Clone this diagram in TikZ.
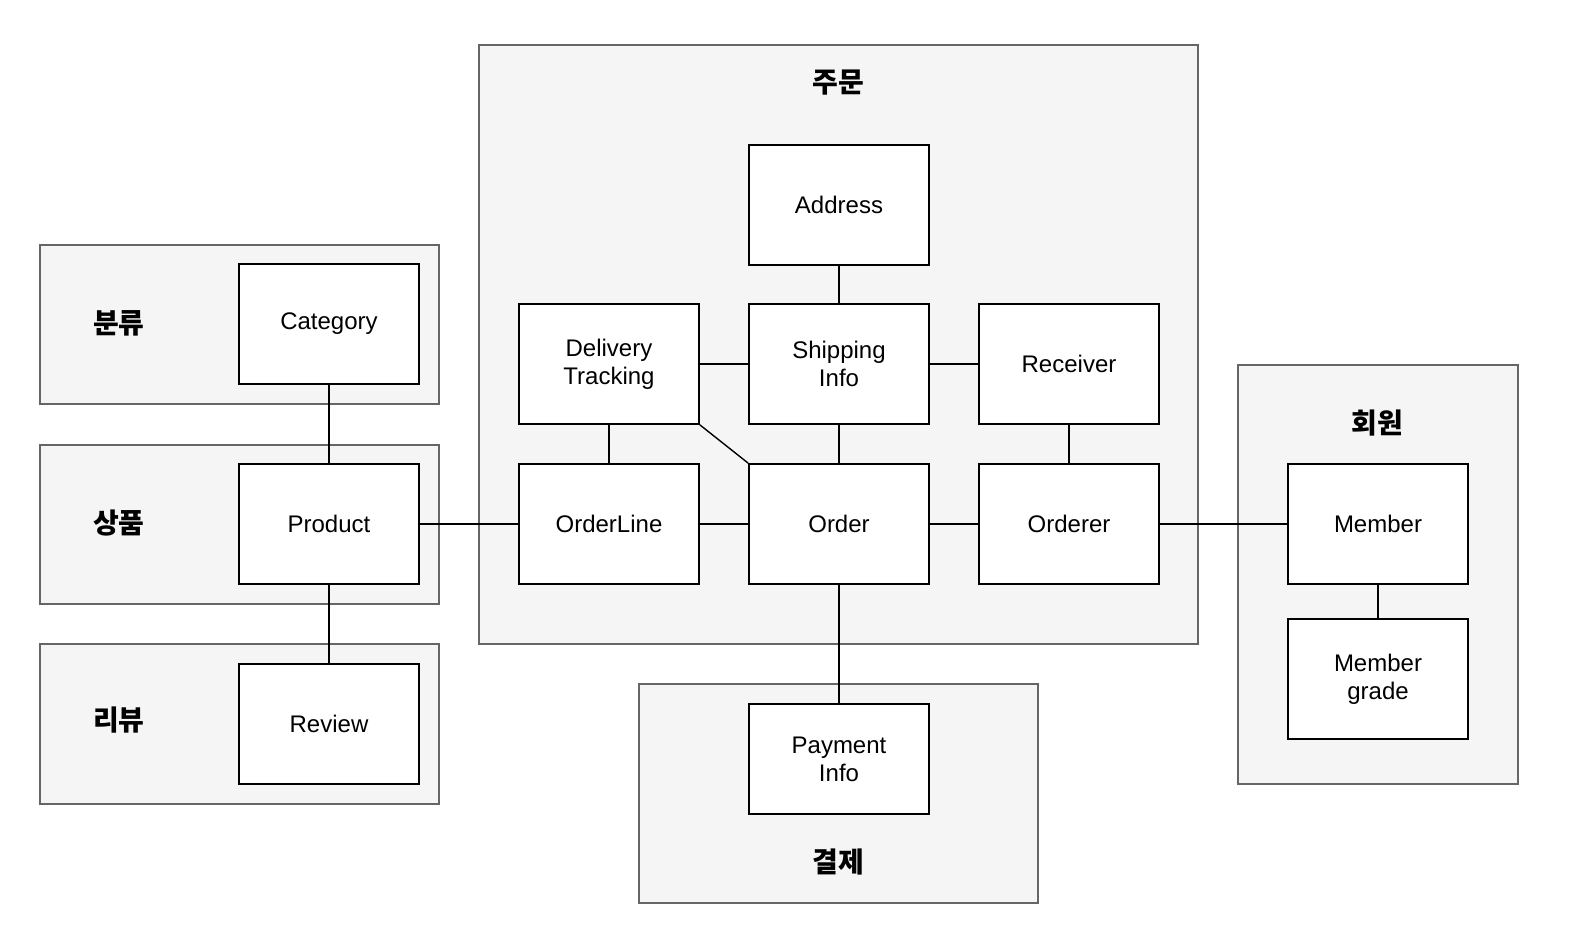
\documentclass[tikz,border=0pt]{standalone}
\usepackage{fontspec}
\setmainfont{Liberation Sans}
\newfontfamily\kofont{Noto Sans CJK KR}
\usetikzlibrary{positioning}

\tikzset{
	area/.style={draw=black!60, fill=black!4, line width=0.7pt},
	title/.style={font=\kofont\bfseries\fontsize{14}{16}\selectfont},
	box/.style={draw, fill=white, line width=0.9pt, minimum width=90pt, minimum height=60pt, align=center, inner sep=2pt},
	link/.style={line width=0.7pt}
}

\begin{document}
\begin{tikzpicture}[x=0.5pt, y=-0.5pt, font=\fontsize{12}{14}\selectfont]

	\useasboundingbox (0,0) rectangle (1570,951);

	% bounded contexts
	\draw [area] (479,45) rectangle (1198,644);
	\draw [area] (40,245) rectangle (439,404);
	\draw [area] (40,445) rectangle (439,604);
	\draw [area] (40,644) rectangle (439,804);
	\draw [area] (639,684) rectangle (1038,903);
	\draw [area] (1238,365) rectangle (1518,784);

	\node [title] (tOrder) at (838,83) {주문};
	\node [title] (tCategory) at (119,323) {분류};
	\node [title] (tProduct) at (119,523) {상품};
	\node [title] (tReview) at (119,720) {리뷰};
	\node [title] (tPayment) at (838,862) {결제};
	\node [title] (tMember) at (1377,423) {회원};

	% entities
	\node [box] (category) at (329,324) {Category};
	\node [box] (product) at (329,524) {Product};
	\node [box] (review) at (329,724) {Review};
	\node [box] (address) at (839,205) {Address};
	\node [box] (delivery) at (609,364) {Delivery\\Tracking};
	\node [box] (shipping) at (839,364) {Shipping\\Info};
	\node [box] (receiver) at (1069,364) {Receiver};
	\node [box] (orderline) at (609,524) {OrderLine};
	\node [box] (order) at (839,524) {Order};
	\node [box] (orderer) at (1069,524) {Orderer};
	\node [box] (member) at (1378,524) {Member};
	\node [box] (grade) at (1378,679) {Member\\grade};
	\node [box, minimum height=55pt] (payment) at (839,759) {Payment\\Info};

	% relations
	\draw [link] (category) -- (product);
	\draw [link] (product) -- (review);
	\draw [link] (product) -- (orderline);
	\draw [link] (orderline) -- (order);
	\draw [link] (order) -- (orderer);
	\draw [link] (orderer) -- (member);
	\draw [link] (member) -- (grade);
	\draw [link] (order) -- (payment);
	\draw [link] (address) -- (shipping);
	\draw [link] (delivery) -- (shipping);
	\draw [link] (shipping) -- (receiver);
	\draw [link] (shipping) -- (order);
	\draw [link] (delivery) -- (orderline);
	\draw [link] (receiver) -- (orderer);
	\draw [link] (delivery.south east) -- (order.north west);

\end{tikzpicture}
\end{document}
